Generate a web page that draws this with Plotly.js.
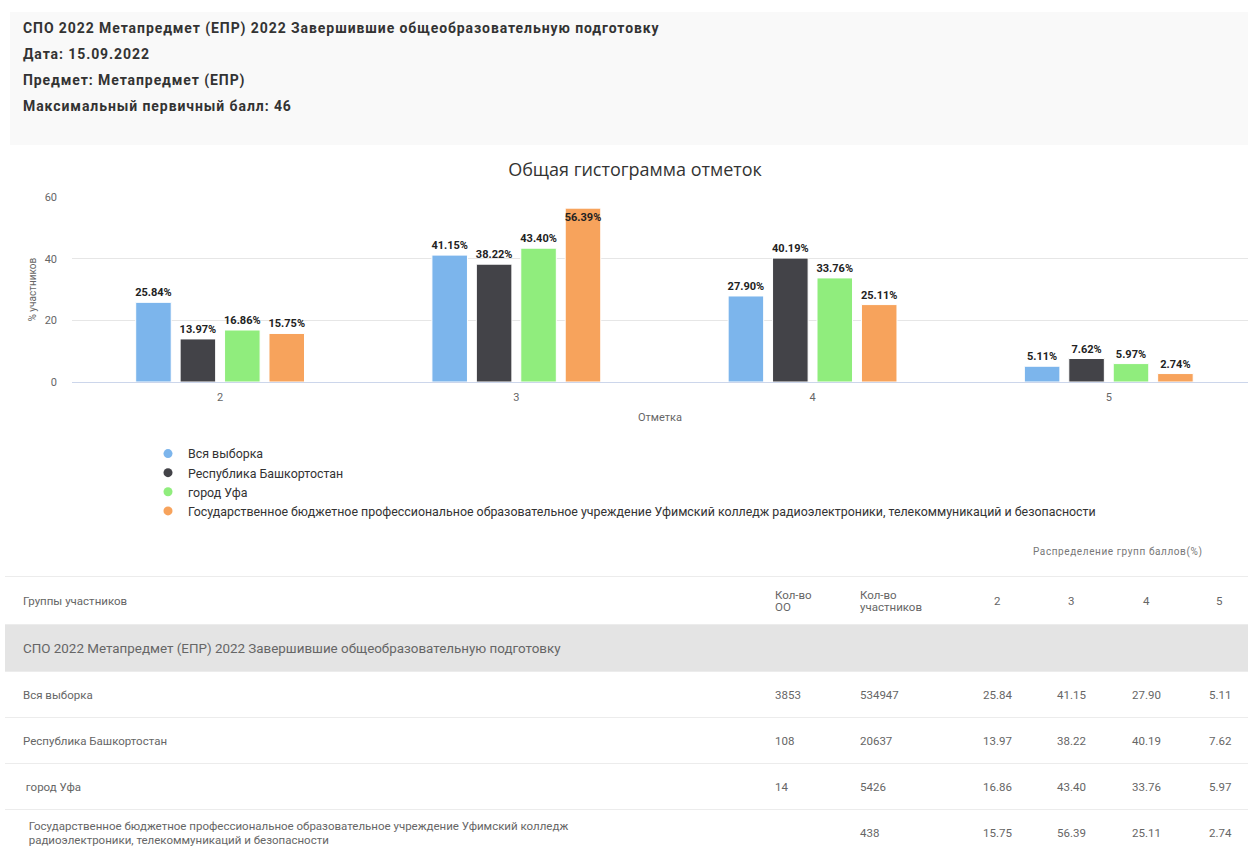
<!DOCTYPE html>
<html>
<head>
<meta charset="utf-8">
<script src="https://cdn.plot.ly/plotly-3.0.1.min.js"></script>
<style>
  html, body { margin:0; padding:0; background:#fff; width:1248px; height:846px; overflow:hidden; font-family: Roboto, "Noto Sans", sans-serif; }
  #hdr { position:absolute; left:10px; top:12px; width:1260px; height:133px; background:#f9f9f9; }
  #hdr div { position:absolute; left:13px; font-weight:bold; font-size:14px; color:#333; letter-spacing:0.92px; white-space:nowrap; line-height:16px; }
  #chart { position:absolute; left:0; top:150px; width:1248px; height:370px; }
  #dist { position:absolute; left:1033px; top:546px; font-size:10px; color:#777; letter-spacing:0.6px; white-space:nowrap; }
  #tbl { position:absolute; left:5px; top:576px; width:1270px; border-collapse:collapse; table-layout:fixed; font-size:11.5px; color:#666; }
  #tbl td { padding:0 0 0 5px; vertical-align:middle; border-top:1px solid #ececec; white-space:nowrap; }
  #tbl tr.grp td { background:#e4e4e4; font-size:13.4px; }
</style>
</head>
<body>
<div id="hdr">
  <div style="top:8px">СПО 2022 Метапредмет (ЕПР) 2022 Завершившие общеобразовательную подготовку</div>
  <div style="top:34px">Дата: 15.09.2022</div>
  <div style="top:60px">Предмет: Метапредмет (ЕПР)</div>
  <div style="top:86px">Максимальный первичный балл: 46</div>
</div>
<div id="chart"></div>
<div id="dist">Распределение групп баллов(%)</div>
<table id="tbl">
  <colgroup>
    <col style="width:765px"><col style="width:85px"><col style="width:123px">
    <col style="width:74px"><col style="width:75px"><col style="width:77px"><col style="width:71px">
  </colgroup>
  <tbody id="tbody"></tbody>
</table>
<script>
// ---- data ----
const categories = ['2', '3', '4', '5'];
const seriesNames = [
  'Вся выборка',
  'Республика Башкортостан',
  'город Уфа',
  'Государственное бюджетное профессиональное образовательное учреждение Уфимский колледж радиоэлектроники, телекоммуникаций и безопасности'
];
const vsyaVyborka = [25.84, 41.15, 27.90, 5.11];
const respublika = [13.97, 38.22, 40.19, 7.62];
const gorodUfa = [16.86, 43.40, 33.76, 5.97];
const kolledzh = [15.75, 56.39, 25.11, 2.74];
const seriesColors = ['#7cb5ec', '#434348', '#90ed7d', '#f7a35c'];

const tableGroupTitle = 'СПО 2022 Метапредмет (ЕПР) 2022 Завершившие общеобразовательную подготовку';
const tableRowNames = ['Вся выборка', 'Республика Башкортостан', '\u00a0город Уфа',
  '\u00a0\u00a0Государственное бюджетное профессиональное образовательное учреждение Уфимский колледж<br>\u00a0\u00a0радиоэлектроники, телекоммуникаций и безопасности'];
const kolvoOO = ['3853', '108', '14', ''];
const kolvoUch = ['534947', '20637', '5426', '438'];

const seriesValues = [vsyaVyborka, respublika, gorodUfa, kolledzh];

// ---- chart ----
const traces = [];
seriesValues.forEach((vals, i) => {
  traces.push({
    type: 'bar', name: seriesNames[i], x: categories, y: vals,
    marker: { color: seriesColors[i], line: { color: '#ffffff', width: 1 } },
    texttemplate: '%{y:.2f}%',
    textposition: vals.map(v => v > 52 ? 'inside' : 'outside'),
    insidetextanchor: 'end',
    textangle: 0,
    constraintext: 'none',
    cliponaxis: false,
    textfont: { family: 'Roboto', size: 11, color: '#222', weight: 'bold' },
    showlegend: false, hoverinfo: 'skip'
  });
});
seriesValues.forEach((vals, i) => {
  traces.push({
    type: 'scatter', mode: 'markers', name: seriesNames[i], x: [null], y: [null],
    marker: { color: seriesColors[i], size: 9, symbol: 'circle' },
    showlegend: true, hoverinfo: 'skip'
  });
});

const layout = {
  width: 1248, height: 370,
  margin: { l: 72, r: 0, t: 47, b: 138, autoexpand: false },
  paper_bgcolor: '#fff', plot_bgcolor: '#fff',
  font: { family: 'Roboto, "Open Sans", sans-serif', color: '#666' },
  title: { text: 'Общая гистограмма отметок', x: 635 / 1248, xanchor: 'center', xref: 'container',
           y: 1 - 20 / 370, yanchor: 'middle', yref: 'container',
           font: { size: 18, color: '#333', family: '"Open Sans", Roboto, sans-serif' } },
  barmode: 'group', bargap: 0.4, bargroupgap: 0.2,
  xaxis: { type: 'category', range: [-0.5, 3.47], showline: true, linecolor: '#ccd6eb', linewidth: 1,
           showgrid: false, ticks: '', ticklabelstandoff: 5, tickfont: { size: 11, color: '#666' },
           title: { text: 'Отметка', font: { size: 11, color: '#666' }, standoff: 10 } },
  yaxis: { range: [0, 60], tickvals: [0, 20, 40, 60], gridcolor: '#e6e6e6', zeroline: false,
           showline: false, ticklabelstandoff: 14, tickfont: { size: 11, color: '#666' } },
  annotations: [{
    text: '% участников', xref: 'paper', yref: 'paper', x: (32 - 72) / 1176, y: 0.5,
    xanchor: 'center', yanchor: 'middle', textangle: -90, showarrow: false,
    font: { size: 10, color: '#666' }
  }],
  legend: { orientation: 'v', xref: 'container', yref: 'container', x: 148 / 1248, xanchor: 'left',
            y: 1 - 289 / 370, yanchor: 'top', font: { size: 12.4, color: '#333' }, bgcolor: 'rgba(0,0,0,0)',
            tracegroupgap: 0, maxheight: 300 },
  showlegend: true
};
Plotly.newPlot('chart', traces, layout, { displayModeBar: false, staticPlot: true });

// ---- table ----
const tb = document.getElementById('tbody');
function row(cells, h, cls) {
  const tr = document.createElement('tr');
  if (cls) tr.className = cls;
  tr.style.height = h + 'px';
  cells.forEach(c => { const td = document.createElement('td'); td.innerHTML = c; tr.appendChild(td); });
  tb.appendChild(tr);
  return tr;
}
const headPads = [11, 11, 11, 7];
const hr = row(['<span style="padding-left:13px">Группы участников</span>', 'Кол-во<br>ОО', 'Кол-во<br>участников']
  .concat(categories.map((c, k) => '<span style="padding-left:' + headPads[k] + 'px">' + c + '</span>')), 48);
hr.querySelectorAll('td').forEach(td => td.style.lineHeight = '12px');
const gr = document.createElement('tr'); gr.className = 'grp'; gr.style.height = '47px';
const gtd = document.createElement('td'); gtd.colSpan = 7; gtd.innerHTML = '<span style="padding-left:13px">' + tableGroupTitle + '</span>';
gr.appendChild(gtd); tb.appendChild(gr);
const heights = [46, 46, 46, 46];
tableRowNames.forEach((nm, i) => {
  const cells = ['<span style="padding-left:13px;display:inline-block;line-height:14px">' + nm + '</span>', kolvoOO[i], kolvoUch[i]];
  seriesValues[i].forEach(v => cells.push(v.toFixed(2)));
  row(cells, heights[i]);
});
</script>
</body>
</html>
